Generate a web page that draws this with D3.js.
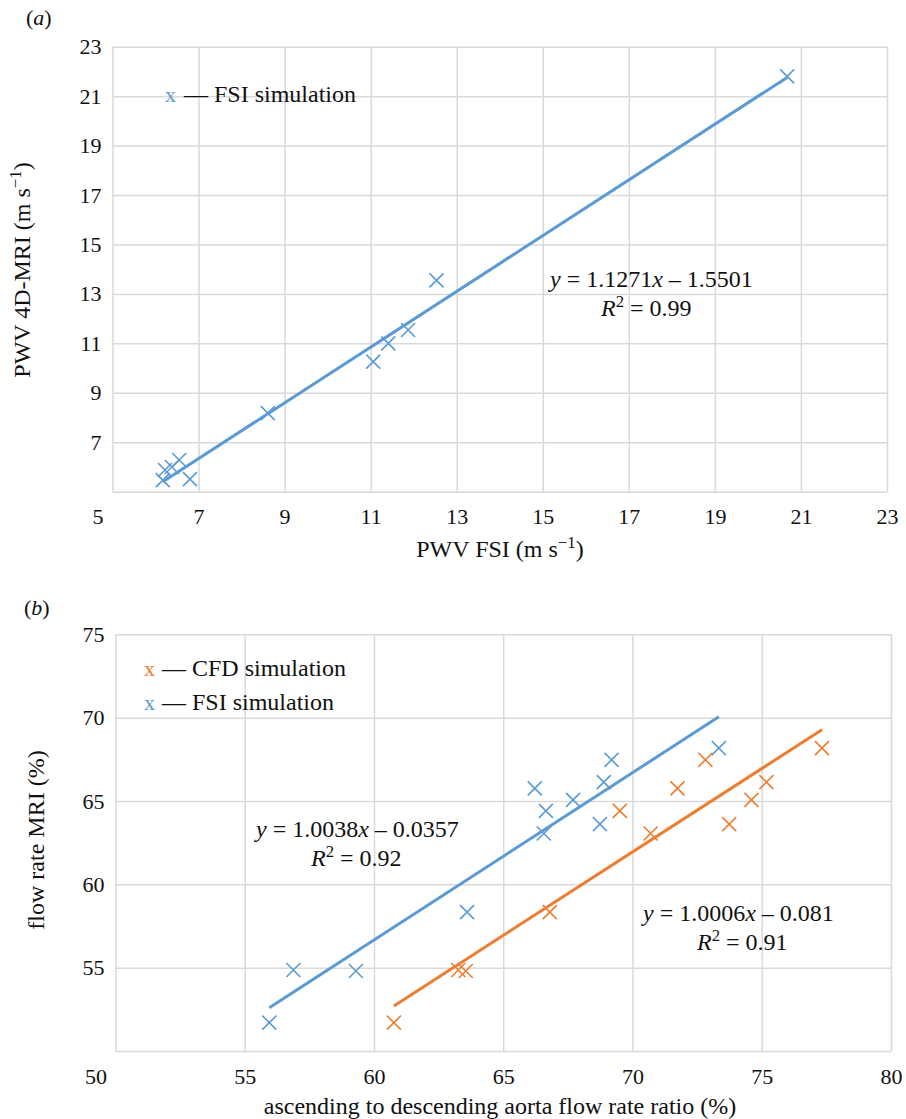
<!DOCTYPE html>
<html>
<head>
<meta charset="utf-8">
<script src="https://cdn.jsdelivr.net/npm/d3@7"></script>
<style>
  body { margin: 0; background: #fff; }
  svg { display: block; font-family: "Liberation Serif", "Times New Roman", serif; }
  .grid line { stroke: #d9d9d9; stroke-width: 1.5; }
  .grid .domain { display: none; }
  .tick text { fill: #111; font-size: 22px; font-family: "Liberation Serif", "Times New Roman", serif; }
</style>
</head>
<body>
<svg width="906" height="1119"></svg>
<script>
// panel (a): PWV
const fsiPwv = [20.68, 12.53, 11.87, 11.41, 11.06, 8.61, 6.55, 6.38, 6.22, 6.17, 6.80];
const mriPwv = [21.80, 13.55, 11.54, 11.00, 10.26, 8.18, 6.28, 6.00, 5.88, 5.47, 5.51];
const fitA = { slope: 1.1271, intercept: -1.5501, r2: 0.99 };
const ticksA = [5, 7, 9, 11, 13, 15, 17, 19, 21, 23];

// panel (b): flow rate ratio
const flowMri = [51.70, 54.86, 54.80, 58.33, 63.05, 63.61, 64.41, 65.07, 65.76, 66.13, 67.47, 68.17];
const fsiRatio = [55.95, 56.88, 59.30, 63.60, 66.57, 68.74, 66.65, 67.70, 66.22, 68.89, 69.19, 73.34];
const cfdRatio = [60.77, 63.26, 63.55, 66.80, 70.70, 73.74, 69.51, 74.60, 71.74, 75.18, 72.82, 77.33];
const fitFsi = { slope: 1.0038, intercept: -0.0357, r2: 0.92 };
const fitCfd = { slope: 1.0006, intercept: -0.081, r2: 0.91 };
const ticksBx = [50, 55, 60, 65, 70, 75, 80];
const ticksBy = [50, 55, 60, 65, 70, 75];

const blue = '#5b9bd5';
const orange = '#ed7d31';

const svg = d3.select('svg');

const cross = 'M-7,-7L7,7M-7,7L7,-7';

function panel(opts) {
  const x = d3.scaleLinear().domain(opts.xDomain).range(opts.xRange);
  const y = d3.scaleLinear().domain(opts.yDomain).range(opts.yRange);
  const w = opts.xRange[1] - opts.xRange[0];
  const h = opts.yRange[0] - opts.yRange[1];
  const g = svg.append('g');

  // vertical grid + x labels
  const gx = g.append('g')
      .attr('class', 'grid')
      .attr('transform', `translate(0, ${opts.yRange[0]})`)
      .call(d3.axisBottom(x).tickValues(opts.xTicks).tickSize(-h).tickPadding(opts.xPad).tickFormat(d3.format('d')));
  gx.selectAll('.tick text').filter((d, i) => i === 0).attr('dx', opts.firstShift);

  // horizontal grid + y labels (bottom one not labelled)
  const gy = g.append('g')
      .attr('class', 'grid')
      .attr('transform', `translate(${opts.xRange[0]}, 0)`)
      .call(d3.axisLeft(y).tickValues(opts.yTicks).tickSize(-w).tickPadding(11)
        .tickFormat(d => d === opts.yDomain[0] ? '' : d));

  gx.attr('font-family', null).attr('font-size', null);
  gy.attr('font-family', null).attr('font-size', null);
  return { g, x, y };
}

// ---------- panel a ----------
const A = panel({
  xDomain: [5, 23], xRange: [112.5, 887],
  yDomain: [5, 23], yRange: [491.7, 46.7],
  xTicks: ticksA, yTicks: ticksA, xPad: 17, firstShift: -15
});

const ax = d3.extent(fsiPwv);
A.g.append('line')
    .attr('x1', A.x(ax[0])).attr('y1', A.y(fitA.slope * ax[0] + fitA.intercept))
    .attr('x2', A.x(ax[1])).attr('y2', A.y(fitA.slope * ax[1] + fitA.intercept))
    .attr('stroke', blue).attr('stroke-width', 3);

A.g.selectAll('path.pt').data(fsiPwv)
  .enter().append('path')
    .attr('class', 'pt')
    .attr('d', cross)
    .attr('transform', (d, i) => `translate(${A.x(d)}, ${A.y(mriPwv[i])})`)
    .attr('fill', 'none').attr('stroke', blue).attr('stroke-width', 1.6);

// ---------- panel b ----------
const B = panel({
  xDomain: [50, 80], xRange: [115.5, 891],
  yDomain: [50, 75], yRange: [1051, 634.3],
  xTicks: ticksBx, yTicks: ticksBy, xPad: 17, firstShift: -20
});

// equations are in fractions, data in percent
const fitLine = (fit, xs, color) => {
  const e = d3.extent(xs);
  const f = v => fit.slope * v + fit.intercept * 100;
  B.g.append('line')
      .attr('x1', B.x(e[0])).attr('y1', B.y(f(e[0])))
      .attr('x2', B.x(e[1])).attr('y2', B.y(f(e[1])))
      .attr('stroke', color).attr('stroke-width', 3);
};
fitLine(fitFsi, fsiRatio, blue);
fitLine(fitCfd, cfdRatio, orange);

const series = [{ xs: fsiRatio, color: blue }, { xs: cfdRatio, color: orange }];
series.forEach(s => {
  B.g.selectAll(null).data(s.xs)
    .enter().append('path')
      .attr('d', cross)
      .attr('transform', (d, i) => `translate(${B.x(d)}, ${B.y(flowMri[i])})`)
      .attr('fill', 'none').attr('stroke', s.color).attr('stroke-width', 1.6);
});

// ---------- texts ----------
const txt = (x, y, size, anchor) => svg.append('text')
    .attr('x', x).attr('y', y)
    .attr('font-size', size)
    .attr('text-anchor', anchor || 'start')
    .attr('fill', '#111');

// panel labels
const la = txt(26, 25, 22); la.append('tspan').text('(');
la.append('tspan').attr('font-style', 'italic').text('a'); la.append('tspan').text(')');
const lb = txt(24, 615, 22); lb.append('tspan').text('(');
lb.append('tspan').attr('font-style', 'italic').text('b'); lb.append('tspan').text(')');

// axis titles a
const xtA = txt(500, 557, 24, 'middle');
xtA.append('tspan').text('PWV FSI (m s');
xtA.append('tspan').attr('dy', -9).attr('font-size', '0.7em').text('−1');
xtA.append('tspan').attr('dy', 9).text(')');

const ytA = svg.append('text')
    .attr('transform', 'translate(30, 270) rotate(-90)')
    .attr('text-anchor', 'middle').attr('font-size', 24).attr('fill', '#111');
ytA.append('tspan').text('PWV 4D-MRI (m s');
ytA.append('tspan').attr('dy', -9).attr('font-size', '0.7em').text('−1');
ytA.append('tspan').attr('dy', 9).text(')');

// legend a
txt(165, 102, 22).attr('fill', blue).text('x');
txt(184, 102, 24).text('— FSI simulation');

function equation(x, y, fit, coefFmt, r2x) {
  const t = txt(x, y, 24);
  t.append('tspan').attr('font-style', 'italic').text('y');
  t.append('tspan').text(' = ' + fit.slope.toFixed(4));
  t.append('tspan').attr('font-style', 'italic').text('x');
  t.append('tspan').text(' – ' + coefFmt(Math.abs(fit.intercept)));
  const r = txt(r2x, y + 29, 24);
  r.append('tspan').attr('font-style', 'italic').text('R');
  r.append('tspan').attr('dy', -9).attr('font-size', '0.7em').text('2');
  r.append('tspan').attr('dy', 9).text(' = ' + fit.r2.toFixed(2));
}
equation(550, 287, fitA, v => v.toFixed(4), 601);

// axis titles b
txt(500, 1114, 24, 'middle').text('ascending to descending aorta flow rate ratio (%)');
svg.append('text')
    .attr('transform', 'translate(44, 840) rotate(-90)')
    .attr('text-anchor', 'middle').attr('font-size', 24).attr('fill', '#111')
    .text('flow rate MRI (%)');

// legend b
txt(144, 676, 22).attr('fill', orange).text('x');
txt(162, 676, 24).text('— CFD simulation');
txt(144, 710, 22).attr('fill', blue).text('x');
txt(162, 710, 24).text('— FSI simulation');

equation(256, 837, fitFsi, v => String(v), 311);
equation(643, 921, fitCfd, v => String(v), 697);
</script>
</body>
</html>
